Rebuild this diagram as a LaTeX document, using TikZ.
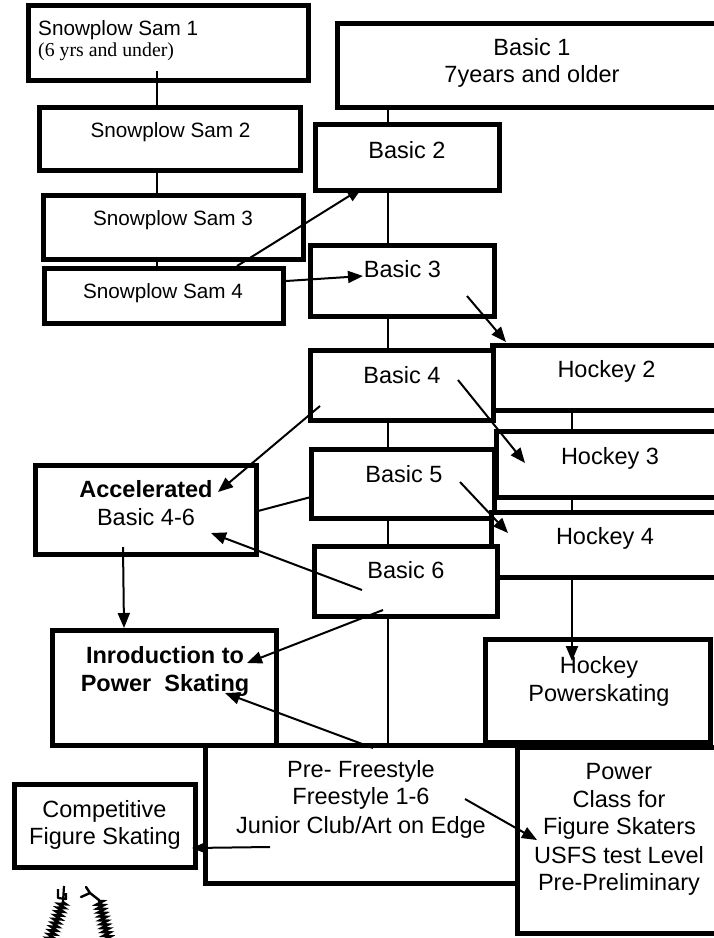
\documentclass[tikz,border=0pt]{standalone}
\usepackage{fontspec}
\setmainfont{Liberation Sans}
\newfontfamily\serifface{Liberation Serif}
\usetikzlibrary{fit,arrows.meta,decorations.pathmorphing}
\tikzset{
  box/.style={draw, line width=5pt, fill=white, inner sep=0pt, outer sep=0pt, rectangle},
  txt/.style={anchor=base, inner sep=0pt, font=\fontsize{23.5}{27.7}\selectfont},
  smalltxt/.style={anchor=base, inner sep=0pt, font=\fontsize{20.7}{24}\selectfont},
  link/.style={line width=1.7pt},
  arr/.style={line width=2pt, -{Triangle[length=15pt,width=12pt]}},
  squig/.style={line width=2.6pt, decorate, decoration={zigzag, amplitude=3.5pt, segment length=4pt}}
}
\newcommand\mytl[4]{\node[txt] (#1) at (#2,#3) {#4};}
\newcommand\mysl[4]{\node[smalltxt] (#1) at (#2,#3) {#4};}
\begin{document}
\begin{tikzpicture}[x=1pt,y=-1pt]
\useasboundingbox (0,0) rectangle (714,938);
\clip (0,0) rectangle (714,938);
\fill[white] (0,0) rectangle (714,938);

% ---- boxes ----
\node[box, fit={(28.5,5.5) (308.5,80.5)}] (sam1) {};
\node[box, fit={(39.5,107.5) (300.5,170.5)}] (sam2) {};
\node[box, fit={(43.5,195.5) (303.5,259.5)}] (sam3) {};
\node[box, fit={(44.5,268.5) (283.5,323.5)}] (sam4) {};

\node[box, fit={(337.5,23.5) (732,107.5)}] (basic1) {};
\node[box, fit={(315.5,124.5) (499.5,190.5)}] (basic2) {};
\node[box, fit={(310.5,245.5) (494.5,316.5)}] (basic3) {};
\node[box, fit={(492.5,345.5) (732,410.5)}] (hockey2) {};
\node[box, fit={(310.5,350.5) (493.5,420.5)}] (basic4) {};
\node[box, fit={(496.5,431.5) (732,497.5)}] (hockey3) {};
\node[box, fit={(311.5,449.5) (494.5,518.5)}] (basic5) {};
\node[box, fit={(491.5,512.5) (732,577.5)}] (hockey4) {};
\node[box, fit={(314.5,546.5) (497.5,616.5)}] (basic6) {};

\node[box, fit={(35.5,465.5) (256.5,554.5)}] (accel) {};
\node[box, fit={(52.5,630.5) (276.5,745.5)}] (intro) {};
\node[box, fit={(485.5,639.5) (710.5,742)}] (hockeyps) {};
\node[box, fit={(205.5,745.5) (517,883.5)}] (prefree) {};
\node[box, fit={(517.5,747.5) (732,933.5)}] (power) {};
\node[box, fit={(14.5,784.5) (195.5,867.5)}] (comp) {};

% ---- texts ----
\node[smalltxt, anchor=base west] (t-sam1) at (38,35) {Snowplow Sam 1};
\node[anchor=base west, inner sep=0pt, font=\serifface\fontsize{19.8}{22}\selectfont] (t-sam1b) at (38,56) {(6 yrs and under)};
\mysl{t-sam2}{170.5}{137}{Snowplow Sam 2}
\mysl{t-sam3}{173}{225}{Snowplow Sam 3}
\mysl{t-sam4}{163}{298}{Snowplow Sam 4}

\mytl{t-b1a}{532}{55}{Basic 1}
\mytl{t-b1b}{532}{82}{7years and older}
\mytl{t-b2}{407}{158}{Basic 2}
\mytl{t-b3}{402.5}{277}{Basic 3}
\mytl{t-b4}{402}{383}{Basic 4}
\mytl{t-b5}{404}{482}{Basic 5}
\mytl{t-b6}{406}{578}{Basic 6}
\mytl{t-h2}{606.5}{377}{Hockey 2}
\mytl{t-h3}{610}{464}{Hockey 3}
\mytl{t-h4}{605}{544}{Hockey 4}

\mytl{t-acca}{146}{497}{\bfseries Accelerated}
\mytl{t-accb}{146}{525}{Basic 4-6}
\mytl{t-inta}{165}{663}{\bfseries Inroduction to}
\mytl{t-intb}{165}{691}{\bfseries Power\ \ Skating}
\mytl{t-hpsa}{599}{673}{Hockey}
\mytl{t-hpsb}{599}{701}{Powerskating}
\mytl{t-pfa}{361}{777}{Pre- Freestyle}
\mytl{t-pfb}{361}{804}{Freestyle 1-6}
\mytl{t-pfc}{361}{833}{Junior Club/Art on Edge}
\mytl{t-coa}{104.5}{817}{Competitive}
\mytl{t-cob}{105}{844}{Figure Skating}
\mytl{t-pwa}{619}{779}{Power}
\mytl{t-pwb}{619}{807}{Class for}
\mytl{t-pwc}{619.5}{834}{Figure Skaters}
\mytl{t-pwd}{619}{863}{USFS test Level}
\mytl{t-pwe}{619}{890}{Pre-Preliminary}

% ---- plain connectors ----
\coordinate (sx) at (157,71);
\coordinate (mx) at (388,0);
\coordinate (hx) at (572,0);
\draw[link] (sx) -- (sam2.north -| sx);
\draw[link] (sam2.south -| sx) -- (sam3.north -| sx);
\draw[link] (sam3.south -| sx) -- (sam4.north -| sx);
\draw[link] (basic1.south -| mx) -- (basic2.north -| mx);
\draw[link] (basic2.south -| mx) -- (basic3.north -| mx);
\draw[link] (basic3.south -| mx) -- (basic4.north -| mx);
\draw[link] (basic4.south -| mx) -- (basic5.north -| mx);
\draw[link] (basic5.south -| mx) -- (basic6.north -| mx);
\draw[link] (basic6.south -| mx) -- (prefree.north -| mx);
\draw[link] (hockey2.south -| hx) -- (hockey3.north -| hx);
\draw[link] (hockey3.south -| hx) -- (hockey4.north -| hx);

% ---- arrow end points ----
\coordinate (a1s) at (237,266);  \coordinate (a1e) at (362,188);
\coordinate (a2s) at (286,281);  \coordinate (a2e) at (363,276);
\coordinate (a3s) at (467,296);  \coordinate (a3e) at (506,342);
\coordinate (a4s) at (458,380);  \coordinate (a4e) at (525,463);
\coordinate (a5s) at (460,482);  \coordinate (a5e) at (508,533);
\coordinate (a6s) at (320,406);  \coordinate (a6e) at (218,492);
\coordinate (l7s) at (258,511);  \coordinate (l7e) at (311,497);
\coordinate (a8s) at (362,590);  \coordinate (a8e) at (211,533);
\coordinate (a9s) at (123,547);  \coordinate (a9e) at (124,628);
\coordinate (a10s) at (383,610); \coordinate (a10e) at (247,663);
\coordinate (a11s) at (373,748); \coordinate (a11e) at (225,693);
\coordinate (a12s) at (270,847); \coordinate (a12e) at (192,848);
\coordinate (a13s) at (465,799); \coordinate (a13e) at (537,840);
\coordinate (a14e) at (572,661);

\draw[arr] (a1s) -- (a1e);
\draw[arr] (a2s) -- (a2e);
\draw[arr] (a3s) -- (a3e);
\draw[arr] (a4s) -- (a4e);
\draw[arr] (a5s) -- (a5e);
\draw[arr] (a6s) -- (a6e);
\draw[line width=2pt] (l7s) -- (l7e);
\draw[arr] (a8s) -- (a8e);
\draw[arr] (a9s) -- (a9e);
\draw[arr] (a10s) -- (a10e);
\draw[arr] (a11s) -- (a11e);
\draw[arr] (a12s) -- (a12e);
\draw[arr] (a13s) -- (a13e);
\draw[arr] (hockey4.south -| hx) -- (a14e);

% ---- hand-drawn squiggle ----
\draw[squig] (50,940) -- (63,902);
\draw[line width=2.2pt, line join=round] (63,902) -- (64,886) (58,889) -- (58,898) -- (66,899) -- (66,893);
\draw[squig] (108,940) -- (99,900);
\draw[line width=2.4pt, line join=round, line cap=round] (81,897) -- (90,893) -- (99,900) (90,893) -- (86,887);
\end{tikzpicture}
\end{document}
